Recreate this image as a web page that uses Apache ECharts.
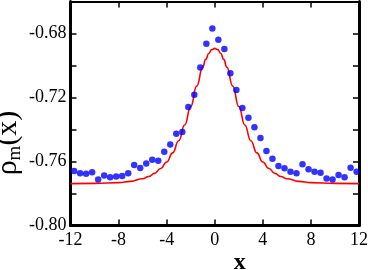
<!DOCTYPE html>
<html><head><meta charset="utf-8">
<script src="https://cdn.jsdelivr.net/npm/echarts@6/dist/echarts.min.js"></script>
<style>html,body{margin:0;padding:0;background:#fff}#c{width:368px;height:270px}</style>
</head><body><div id="c"></div>
<script>
const yLabelTicks = [-0.80, -0.76, -0.72, -0.68];
const dotX = [-11.7,-11.2,-10.7,-10.2,-9.7,-9.2,-8.7,-8.2,-7.7,-7.2,-6.7,-6.2,-5.7,-5.2,-4.7,-4.2,-3.7,-3.2,-2.7,-2.2,-1.7,-1.2,-0.7,-0.2,0.3,0.8,1.3,1.8,2.3,2.8,3.3,3.8,4.3,4.8,5.3,5.8,6.3,6.8,7.3,7.8,8.3,8.8,9.3,9.8,10.3,10.8,11.3,11.8];
const dotY = [-0.7659,-0.7673,-0.7676,-0.7667,-0.7713,-0.7687,-0.7698,-0.7693,-0.7691,-0.7674,-0.7622,-0.7640,-0.7612,-0.7589,-0.7596,-0.7539,-0.7493,-0.7426,-0.7416,-0.7260,-0.7183,-0.7013,-0.6864,-0.6768,-0.6839,-0.6897,-0.7049,-0.7153,-0.7266,-0.7326,-0.7386,-0.7453,-0.7534,-0.7583,-0.7628,-0.7642,-0.7664,-0.7673,-0.7617,-0.7648,-0.7664,-0.7670,-0.7707,-0.7712,-0.7685,-0.7699,-0.7639,-0.7664];
const curveX = [-12,-10,-8,-7,-6,-5.5,-5,-4.5,-4,-3.5,-3,-2.5,-2,-1.5,-1,-0.75,-0.5,-0.25,0,0.25,0.5,0.75,1,1.5,2,2.5,3,3.5,4,4.5,5,5.5,6,7,8,10,12];
const curveY = [-0.7738,-0.7737,-0.7732,-0.7724,-0.7708,-0.7694,-0.7674,-0.7644,-0.7603,-0.7546,-0.7470,-0.7372,-0.7256,-0.7129,-0.7010,-0.6962,-0.6925,-0.6901,-0.6893,-0.6901,-0.6925,-0.6962,-0.7010,-0.7129,-0.7256,-0.7372,-0.7470,-0.7546,-0.7603,-0.7644,-0.7674,-0.7694,-0.7708,-0.7724,-0.7732,-0.7737,-0.7738];

const serif = 'Liberation Serif';
const chart = echarts.init(document.getElementById('c'), null, {renderer: 'canvas'});
const tickStyle = {show: true, inside: true, length: 6, lineStyle: {color: '#000', width: 1.5}};
chart.setOption({
  animation: false,
  backgroundColor: '#fff',
  grid: {left: 70.5, right: 9, top: 1.5, bottom: 44.5, containLabel: false, outerBoundsMode: 'none'},
  xAxis: [{
    type: 'value', min: -12, max: 12, interval: 4, position: 'bottom',
    axisLine: {show: true, onZero: false, lineStyle: {color: '#000', width: 3}},
    axisTick: tickStyle,
    axisLabel: {fontFamily: serif, fontSize: 18, color: '#000', margin: 6, showMinLabel: true, showMaxLabel: true},
    splitLine: {show: false},
    name: 'x', nameLocation: 'middle', nameGap: 25, nameMoveOverlap: false,
    nameTextStyle: {fontFamily: serif, fontSize: 24, fontWeight: 'bold', color: '#000', padding: [0, 0, 0, 50]}
  }, {
    type: 'value', min: -12, max: 12, interval: 4, position: 'top',
    axisLine: {show: true, onZero: false, lineStyle: {color: '#000', width: 2}},
    axisTick: tickStyle, axisLabel: {show: false}, splitLine: {show: false}
  }],
  yAxis: [{
    type: 'value', min: -0.80, max: -0.66, interval: 0.02, position: 'left',
    axisLine: {show: true, onZero: false, lineStyle: {color: '#000', width: 3}},
    axisTick: tickStyle,
    axisLabel: {fontFamily: serif, fontSize: 18, color: '#000', margin: 4,
      formatter: v => yLabelTicks.some(t => Math.abs(t - v) < 1e-9) ? v.toFixed(2) : ''},
    splitLine: {show: false},
    name: '{a|ρ}{s|m}{a|(x)}', nameLocation: 'middle', nameGap: 46, nameRotate: 90, nameMoveOverlap: false,
    nameTextStyle: {
      padding: [0, 59, 0, 0],
      rich: {
        a: {fontFamily: serif, fontSize: 30, color: '#000'},
        s: {fontFamily: serif, fontSize: 19, color: '#000', padding: [14, 0, 0, 0]}
      }
    }
  }, {
    type: 'value', min: -0.80, max: -0.66, interval: 0.02, position: 'right',
    axisLine: {show: true, onZero: false, lineStyle: {color: '#000', width: 3}},
    axisTick: tickStyle, axisLabel: {show: false}, splitLine: {show: false}
  }],
  series: [{
    type: 'line', xAxisIndex: 0, yAxisIndex: 0,
    data: curveX.map((x, i) => [x, curveY[i]]),
    smooth: true, smoothMonotone: 'x', showSymbol: false, symbol: 'none',
    lineStyle: {color: '#ff0000', width: 1.6}, z: 2
  }, {
    type: 'scatter', xAxisIndex: 0, yAxisIndex: 0,
    data: dotX.map((x, i) => [x, dotY[i]]),
    symbol: 'circle', symbolSize: 6.5,
    itemStyle: {color: '#0000ff'}, z: 3
  }]
});
</script>
</body></html>
